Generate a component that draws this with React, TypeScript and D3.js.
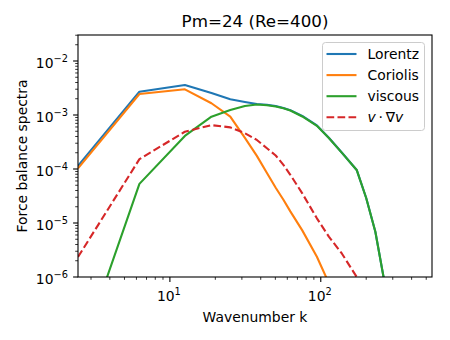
import { useEffect, useRef } from 'react';
import * as d3 from 'd3';

// wavenumbers (k = 2*pi*n mostly) and spectra
const kValues = [2.46, 6.28, 12.57, 18.85, 25.13, 31.42, 37.7, 43.98, 50.27, 56.55, 62.83, 75.4, 94.25, 113.1, 138.2, 173, 200, 230, 270, 320];
const lorentz = [1.14e-4, 2.7e-3, 3.6e-3, 2.55e-3, 1.95e-3, 1.74e-3, 1.6e-3, 1.55e-3, 1.47e-3, 1.35e-3, 1.23e-3, 9.6e-4, 6.4e-4, 3.8e-4, 2.0e-4, 9.6e-5, 2.9e-5, 6.9e-6, 5.8e-7, 1e-7];
const coriolis = [1.03e-4, 2.45e-3, 2.99e-3, 1.65e-3, 9.3e-4, 3.76e-4, 1.75e-4, 8.4e-5, 4.5e-5, 2.7e-5, 1.64e-5, 7.3e-6, 2.37e-6, 7.7e-7, 1.2e-7, 1e-8, 2e-9, 5e-10, 1e-10, 2e-11];
const viscous = [2.8e-8, 5.3e-5, 4.1e-4, 9.3e-4, 1.24e-3, 1.47e-3, 1.56e-3, 1.52e-3, 1.44e-3, 1.33e-3, 1.21e-3, 9.4e-4, 6.3e-4, 3.76e-4, 1.99e-4, 9.6e-5, 2.9e-5, 6.9e-6, 5.8e-7, 1e-7];
const advection = [2.34e-6, 1.52e-4, 4.9e-4, 6.5e-4, 5.9e-4, 4.6e-4, 3.45e-4, 2.42e-4, 1.78e-4, 1.19e-4, 7.8e-5, 3.54e-5, 1.22e-5, 5.6e-6, 2.7e-6, 1.0e-6, 3e-7, 8e-8, 1.5e-8, 3e-9];

const seriesNames = ['Lorentz', 'Coriolis', 'viscous', 'advection'];
const seriesColors = ['#1f77b4', '#ff7f0e', '#2ca02c', '#d62728'];
const xMajorTicks = [10, 100];
const yMajorTicks = [1e-6, 1e-5, 1e-4, 1e-3, 1e-2];

const FONT = 'DejaVu Sans, sans-serif';

export default function App() {
  const svgRef = useRef<SVGSVGElement>(null);

  useEffect(() => {
    if (!svgRef.current) return;
    const svg = d3.select(svgRef.current);
    svg.selectAll('*').remove();

    const width = 450;
    const height = 340;
    const m = { left: 78, right: 18, top: 35, bottom: 63 };
    const x = d3.scaleLog().domain([2.46, 546]).range([m.left, width - m.right]);
    const y = d3.scaleLog().domain([1e-6, 0.0303]).range([height - m.bottom, m.top]);

    svg.append('rect').attr('width', width).attr('height', height).attr('fill', '#fff');

    svg.append('defs').append('clipPath').attr('id', 'plot-clip')
      .append('rect')
      .attr('x', m.left).attr('y', m.top)
      .attr('width', width - m.left - m.right)
      .attr('height', height - m.top - m.bottom);

    // curves
    const allSeries = [lorentz, coriolis, viscous, advection];
    const line = d3.line<number>()
      .x((_, i) => x(kValues[i]))
      .y(d => y(d));

    const plot = svg.append('g').attr('clip-path', 'url(#plot-clip)');
    allSeries.forEach((vals, i) => {
      plot.append('path')
        .attr('d', line(vals))
        .attr('fill', 'none')
        .attr('stroke', seriesColors[i])
        .attr('stroke-width', 2.1)
        .attr('stroke-linejoin', 'round')
        .attr('stroke-dasharray', i === 3 ? '7.7,3.3' : null);
    });

    // axes frame
    svg.append('rect')
      .attr('x', m.left).attr('y', m.top)
      .attr('width', width - m.left - m.right)
      .attr('height', height - m.top - m.bottom)
      .attr('fill', 'none')
      .attr('stroke', '#000')
      .attr('stroke-width', 1.1);

    const axisY = height - m.bottom;

    // x ticks
    const [x0, x1] = x.domain();
    for (let dec = 1; dec <= 100; dec *= 10) {
      for (let j = 1; j <= 9; j++) {
        const v = dec * j;
        if (v < x0 || v > x1) continue;
        const major = j === 1;
        svg.append('line')
          .attr('x1', x(v)).attr('x2', x(v))
          .attr('y1', axisY).attr('y2', axisY + (major ? 4.9 : 2.8))
          .attr('stroke', '#000')
          .attr('stroke-width', major ? 1.1 : 0.8);
      }
    }
    xMajorTicks.forEach(v => {
      const t = svg.append('text')
        .attr('x', x(v) - 1)
        .attr('y', axisY + 23.5)
        .attr('text-anchor', 'middle')
        .attr('font-family', FONT)
        .attr('font-size', 13.9)
        .attr('fill', '#000');
      t.append('tspan').text('10');
      t.append('tspan')
        .attr('dy', -6)
        .attr('font-size', 9.8)
        .text(String(Math.round(Math.log10(v))));
    });

    // y ticks
    const [y0, y1] = y.domain();
    for (let dec = 1e-6; dec <= 1e-2 * 1.01; dec *= 10) {
      for (let j = 1; j <= 9; j++) {
        const v = dec * j;
        if (v < y0 * 0.999 || v > y1) continue;
        const major = j === 1;
        svg.append('line')
          .attr('x1', m.left).attr('x2', m.left - (major ? 4.9 : 2.8))
          .attr('y1', y(v)).attr('y2', y(v))
          .attr('stroke', '#000')
          .attr('stroke-width', major ? 1.1 : 0.8);
      }
    }
    yMajorTicks.forEach(v => {
      const t = svg.append('text')
        .attr('x', m.left - 10)
        .attr('y', y(v) + 7)
        .attr('text-anchor', 'end')
        .attr('font-family', FONT)
        .attr('font-size', 13.9)
        .attr('fill', '#000');
      t.append('tspan').text('10');
      t.append('tspan')
        .attr('dy', -6)
        .attr('font-size', 9.8)
        .text('\u2212' + String(Math.round(-Math.log10(v))));
    });

    // title and labels
    svg.append('text')
      .attr('x', (m.left + width - m.right) / 2)
      .attr('y', 27)
      .attr('text-anchor', 'middle')
      .attr('font-family', FONT)
      .attr('font-size', 16.7)
      .text('Pm=24 (Re=400)');

    svg.append('text')
      .attr('x', (m.left + width - m.right) / 2)
      .attr('y', 322)
      .attr('text-anchor', 'middle')
      .attr('font-family', FONT)
      .attr('font-size', 13.9)
      .text('Wavenumber k');

    svg.append('text')
      .attr('transform', `translate(27,${(m.top + axisY) / 2}) rotate(-90)`)
      .attr('text-anchor', 'middle')
      .attr('font-family', FONT)
      .attr('font-size', 13.9)
      .text('Force balance spectra');

    // legend
    const lg = svg.append('g');
    lg.append('rect')
      .attr('x', 322.5).attr('y', 42.5)
      .attr('width', 102).attr('height', 88)
      .attr('rx', 3)
      .attr('fill', '#fff').attr('fill-opacity', 0.8)
      .attr('stroke', '#ccc').attr('stroke-width', 1);

    seriesNames.forEach((name, i) => {
      const cy = 54 + i * 21.1;
      lg.append('line')
        .attr('x1', 326.5).attr('x2', 356.5)
        .attr('y1', cy).attr('y2', cy)
        .attr('stroke', seriesColors[i])
        .attr('stroke-width', 2.1)
        .attr('stroke-dasharray', i === 3 ? '7.7,3.3' : null);
      const t = lg.append('text')
        .attr('x', 367.5)
        .attr('y', cy + 5)
        .attr('font-family', FONT)
        .attr('font-size', 13.9)
        .attr('fill', '#000');
      if (i === 3) {
        t.append('tspan').attr('font-style', 'italic').text('v');
        t.append('tspan').text('\u2009\u00b7\u2009\u2207');
        t.append('tspan').attr('font-style', 'italic').text('v');
      } else {
        t.text(name);
      }
    });
  }, []);

  return (
    <svg ref={svgRef} width={450} height={340} style={{ position: 'absolute', left: 0, top: 0 }} />
  );
}
